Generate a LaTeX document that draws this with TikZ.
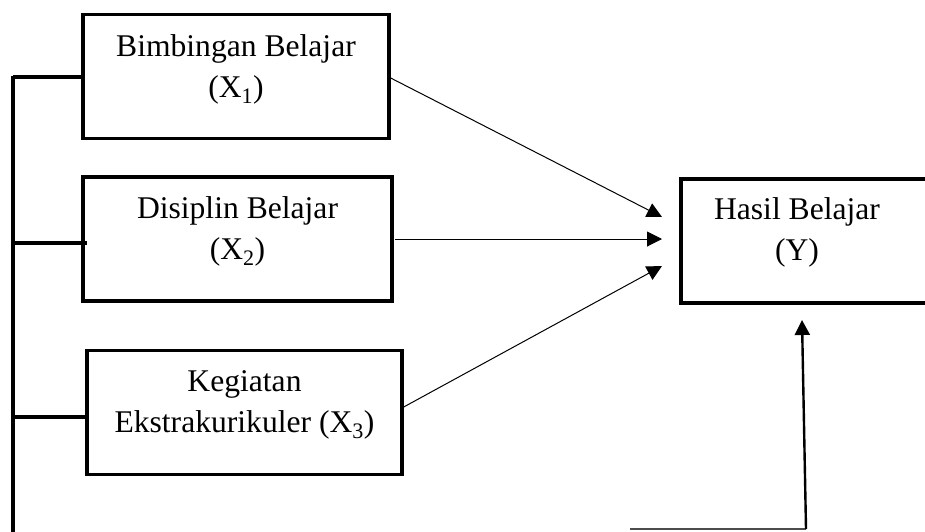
\documentclass[tikz,border=0pt]{standalone}
\usepackage{fontspec}
\setmainfont{Liberation Serif}
\usetikzlibrary{arrows.meta}
\begin{document}
\begin{tikzpicture}[x=1pt,y=-1pt,
  box/.style={draw,line width=3.4pt,minimum width=#1,minimum height=124pt,inner sep=0pt},
  lbl/.style={align=center,inner sep=0pt,font=\fontsize{31.6}{41}\selectfont},
  bus/.style={line width=3.2pt},
  thin/.style={line width=1pt,-{Triangle[length=15pt,width=15pt]}},
  thick/.style={line width=2.4pt,-{Triangle[length=15pt,width=15pt]}}]
\useasboundingbox (0,0) rectangle (925,531);
\node[box=306pt] (b1) at (236,76.5) {};
\node[box=309pt] (b2) at (237.5,239) {};
\node[box=315pt] (b3) at (244.5,412.5) {};
\node[box=254pt] (by) at (808,241) {};
\node[lbl] (t1) at (236,69) {Bimbingan Belajar\\(X\textsubscript{1})};
\node[lbl] (t2) at (237.5,231) {Disiplin Belajar\\(X\textsubscript{2})};
\node[lbl] (t3) at (244.5,405) {Kegiatan\\Ekstrakurikuler (X\textsubscript{3})};
\node[lbl] (ty) at (797,232) {Hasil Belajar\\(Y)};
% bus
\coordinate (btop) at (13,76);
\coordinate (bbot) at (13,532);
\draw[bus] (btop) -- (bbot);
\draw[bus] (13,77) -- (b1.west |- 0,77);
\draw[bus] (13,243) -- (87,243);
\draw[bus] (13,417) -- (b3.west |- 0,417);
% arrows to Y
\coordinate (e1) at (662,217);
\coordinate (e2) at (662,239);
\coordinate (e3) at (662,266);
\draw[thin] (b1.east |- 0,78) -- (e1);
\draw[thin] (395,239) -- (e2);
\draw[thin] (b3.east |- 0,407) -- (e3);
% bottom return
\coordinate (r0) at (630,529);
\coordinate (r1) at (806,529);
\coordinate (r2) at (802,320);
\draw[line width=1.4pt,black!70] (r0) -- (r1);
\draw[thick] (r1) -- (r2);
\end{tikzpicture}
\end{document}
